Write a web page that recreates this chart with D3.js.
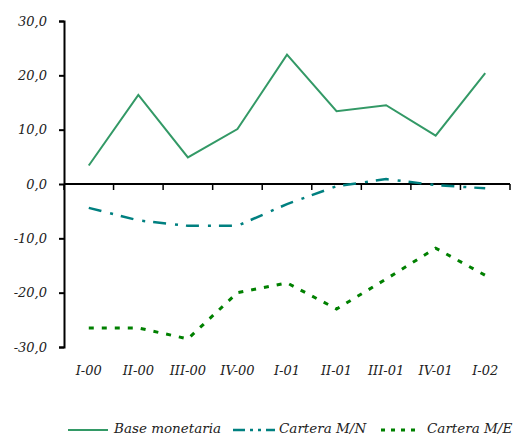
<!DOCTYPE html>
<html>
<head>
<meta charset="utf-8">
<script src="https://cdn.jsdelivr.net/npm/d3@7"></script>
<style>
  body { margin: 0; background: #fff; }
  text { font-family: "DejaVu Serif", serif; font-style: italic; font-size: 13px; fill: #222; }
</style>
</head>
<body>
<div id="chart"></div>
<script>
// quarters on the x axis
const quarters = ["I-00", "II-00", "III-00", "IV-00", "I-01", "II-01", "III-01", "IV-01", "I-02"];

// series values (%)
const baseMonetaria = [3.4, 16.4, 4.9, 10.1, 23.8, 13.4, 14.5, 8.9, 20.4];
const carteraMN = [-4.4, -6.7, -7.7, -7.7, -3.7, -0.4, 0.9, -0.2, -0.8];
const carteraME = [-26.5, -26.5, -28.5, -20.0, -18.2, -23.0, -17.5, -11.8, -16.8];

const yTicks = [30, 20, 10, 0, -10, -20, -30];

const series = [
    { name: "Base monetaria", values: baseMonetaria, color: "#339966", width: 2, dash: null },
    { name: "Cartera M/N", values: carteraMN, color: "#008080", width: 2.5, dash: "13,9,3,8" },
    { name: "Cartera M/E", values: carteraME, color: "#008000", width: 3, dash: "5,8" }
];

const width = 523, height = 437;
const svg = d3.select("#chart").append("svg")
    .attr("width", width)
    .attr("height", height);

const x = d3.scaleBand()
    .domain(quarters)
    .range([64, 510]);

const y = d3.scaleLinear()
    .domain([-30, 30])
    .range([347, 21]);

const fmt = d => d3.format(".1f")(d).replace(".", ",").replace("−", "-");

// y axis
const yAxis = svg.append("g")
    .attr("transform", "translate(64,0)")
    .call(d3.axisLeft(y).tickValues(yTicks).tickSize(5).tickPadding(12).tickFormat(fmt));
yAxis.select(".domain").attr("stroke", "#000").attr("stroke-width", 2);
yAxis.selectAll(".tick line").attr("stroke", "#000").attr("stroke-width", 2);
yAxis.selectAll("text").attr("font-family", null).attr("font-size", null);

// x axis along zero, ticks on category boundaries
const xAxis = svg.append("g")
    .attr("transform", `translate(0,${y(0)})`);
xAxis.append("line")
    .attr("x1", 64).attr("x2", 510)
    .attr("stroke", "#000").attr("stroke-width", 2);
xAxis.selectAll(".xtick")
    .data(quarters.map(q => x(q)).concat([x.range()[1]]))
    .enter().append("line")
    .attr("x1", d => d).attr("x2", d => d)
    .attr("y1", 0).attr("y2", 6)
    .attr("stroke", "#000").attr("stroke-width", 1.5);

// category labels below the plot
svg.selectAll(".xlabel")
    .data(quarters)
    .enter().append("text")
    .attr("x", d => x(d) + x.bandwidth() / 2)
    .attr("y", 375)
    .attr("text-anchor", "middle")
    .text(d => d);

const line = d3.line()
    .x((d, i) => x(quarters[i]) + x.bandwidth() / 2)
    .y(d => y(d));

svg.selectAll(".series")
    .data(series)
    .enter().append("path")
    .attr("fill", "none")
    .attr("stroke", d => d.color)
    .attr("stroke-width", d => d.width)
    .attr("stroke-dasharray", d => d.dash)
    .attr("d", d => line(d.values));

// legend
const legendPos = [
    { lx: 68, len: 40, tx: 114 },
    { lx: 233, len: 42, tx: 279 },
    { lx: 381, len: 40, tx: 427 }
];
const legend = svg.selectAll(".legend")
    .data(series)
    .enter().append("g");
legend.append("line")
    .attr("x1", (d, i) => legendPos[i].lx)
    .attr("x2", (d, i) => legendPos[i].lx + legendPos[i].len)
    .attr("y1", 430).attr("y2", 430)
    .attr("stroke", d => d.color)
    .attr("stroke-width", d => d.width)
    .attr("stroke-dasharray", (d, i) => i === 1 ? "12,5,3,5,3,5" : i === 2 ? "4,6" : null);
legend.append("text")
    .attr("x", (d, i) => legendPos[i].tx)
    .attr("y", 433)
    .style("font-size", "13.5px")
    .text(d => d.name);
</script>
</body>
</html>
